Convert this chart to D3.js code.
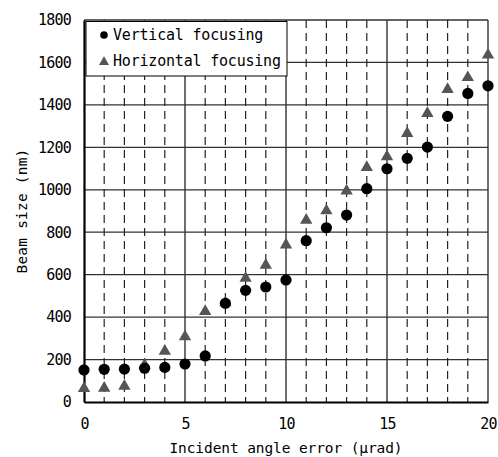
<!DOCTYPE html>
<html><head><meta charset="utf-8">
<script src="https://cdn.jsdelivr.net/npm/d3@7"></script>
<style>
body{margin:0;background:#fff;}
text{font-family:"DejaVu Sans Mono",monospace;fill:#000;}
</style></head>
<body><svg id="c" width="498" height="457"></svg>
<script>
const xValues = [0,1,2,3,4,5,6,7,8,9,10,11,12,13,14,15,16,17,18,19,20];
const verticalFocusing = [151,154,155,159,163,179,217,465,526,542,575,760,821,881,1005,1099,1148,1201,1346,1454,1490];
const horizontalFocusing = [64,65,75,175,240,308,427,468,583,645,740,857,901,995,1105,1156,1266,1360,1473,1529,1635];
const xTicks = [0,5,10,15,20];
const yTicks = [0,200,400,600,800,1000,1200,1400,1600,1800];
const seriesNames = ["Vertical focusing","Horizontal focusing"];
const xTitle = "Incident angle error (\u03bcrad)";
const yTitle = "Beam size (nm)";

const svg = d3.select("#c");
const L=84,R=488,T=20,B=402;
const x = d3.scaleLinear().domain([0,20]).range([L,R]);
const y = d3.scaleLinear().domain([0,1800]).range([B,T]);

// horizontal grid
svg.append("g").selectAll("line").data(yTicks.filter(d=>d>0)).join("line")
  .attr("x1",L).attr("x2",R).attr("y1",d=>y(d)).attr("y2",d=>y(d))
  .attr("stroke","#333").attr("stroke-width",1.2);
// vertical dashed grid
const minor = d3.range(1,20).filter(d=>d%5!==0);
svg.append("g").selectAll("line").data(minor).join("line")
  .attr("x1",d=>x(d)).attr("x2",d=>x(d)).attr("y1",T).attr("y2",B)
  .attr("stroke","#222").attr("stroke-width",1.2).attr("stroke-dasharray","8,5");
// vertical solid grid
svg.append("g").selectAll("line").data([5,10,15,20]).join("line")
  .attr("x1",d=>x(d)).attr("x2",d=>x(d)).attr("y1",T).attr("y2",B)
  .attr("stroke","#333").attr("stroke-width",1.4);
// top border
svg.append("line").attr("x1",L).attr("x2",R).attr("y1",T).attr("y2",T).attr("stroke","#333").attr("stroke-width",1.2);

// axes
const xAxis = svg.append("g").attr("transform",`translate(0,${B})`)
  .call(d3.axisBottom(x).tickValues(xTicks).tickFormat(d3.format("d")).tickSize(0).tickPadding(16));
xAxis.select(".domain").attr("stroke","#000").attr("stroke-width",2.2);
const yAxis = svg.append("g").attr("transform",`translate(${L},0)`)
  .call(d3.axisLeft(y).tickValues(yTicks).tickFormat(d3.format("d")).tickSize(0).tickPadding(13));
yAxis.select(".domain").attr("stroke","#000").attr("stroke-width",2.2);
svg.selectAll(".tick text").attr("font-family","DejaVu Sans Mono").attr("font-size",15).attr("letter-spacing","-0.8").attr("fill","#000");

// titles
svg.append("text").attr("x",(L+R)/2).attr("y",453).attr("text-anchor","middle")
  .attr("font-size",14.5).attr("letter-spacing","-0.1").text(xTitle);
svg.append("text").attr("transform",`translate(27,${(T+B)/2}) rotate(-90)`).attr("text-anchor","middle")
  .attr("font-size",14.5).attr("letter-spacing","0.2").text(yTitle);

// data
svg.append("g").selectAll("path").data(xValues.map((d,i)=>[d,horizontalFocusing[i]])).join("path")
  .attr("d",d3.symbol(d3.symbolTriangle,66)).attr("transform",d=>`translate(${x(d[0])},${y(d[1])})`)
  .attr("fill","#555");
svg.append("g").selectAll("circle").data(xValues.map((d,i)=>[d,verticalFocusing[i]])).join("circle")
  .attr("cx",d=>x(d[0])).attr("cy",d=>y(d[1])).attr("r",5.6).attr("fill","#000");

// legend
const lg = svg.append("g");
lg.append("rect").attr("x",86).attr("y",21.5).attr("width",201).attr("height",54.5)
  .attr("fill","#fff").attr("stroke","#000").attr("stroke-width",1);
lg.append("circle").attr("cx",104).attr("cy",35).attr("r",3.8).attr("fill","#000");
lg.append("path").attr("d",d3.symbol(d3.symbolTriangle,44)).attr("transform","translate(104,62)").attr("fill","#555");
lg.selectAll("text.l").data(seriesNames).join("text").attr("class","l")
  .attr("x",113).attr("y",(d,i)=>40+i*26).attr("font-size",15).attr("letter-spacing","-0.2").text(d=>d);
</script></body></html>
